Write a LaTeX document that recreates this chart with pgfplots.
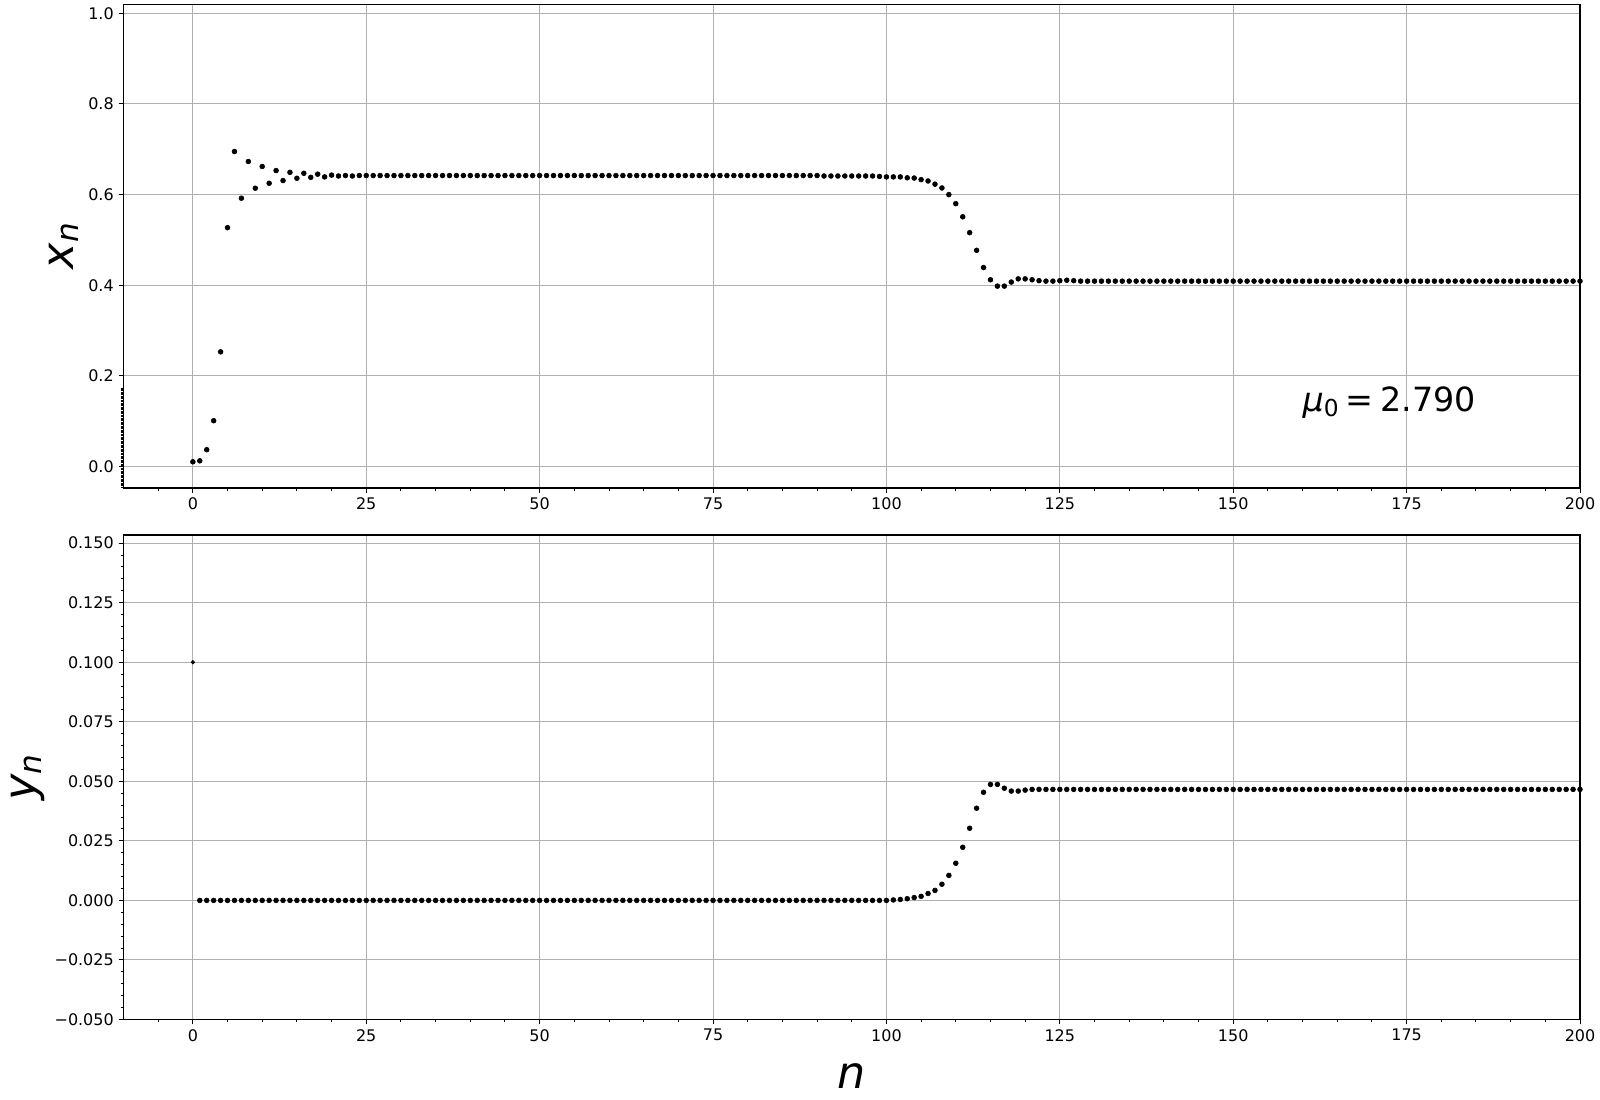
\documentclass[border=0pt]{standalone}
\usepackage{fontspec}
\setmainfont{DejaVu Sans}
\usepackage{pgfplots}
\pgfplotsset{compat=1.18}
\definecolor{gridgray}{RGB}{176,176,176}

\pgfplotsset{
  mpl/.style={
    scale only axis, width=1048.7pt,
    xmin=-10, xmax=200,
    axis line style={black, line width=0.8pt},
    tick align=outside, xtick pos=bottom, ytick pos=left,
    major tick length=3.5pt, minor tick length=2pt,
    tick style={black, line width=0.7pt},
    grid=major, grid style={gridgray, line width=0.7pt},
    xtick={0,25,...,200},
    xticklabels={0,25,50,75,100,125,150,175,200},
    minor xtick={-5,0,...,200},
    tick label style={font=\fontsize{11.5}{13}\selectfont},
    label style={font=\fontsize{32}{36}\selectfont},
  },
  dots/.style={only marks, mark=*, mark size=1.75pt, black, mark options={line width=0.4pt}},
}

\begin{document}
\begin{tikzpicture}

% x_n
\begin{axis}[mpl, name=top, at={(88.92pt,-351.36pt)}, anchor=south west,
  height=348.3pt, ymin=-0.0475, ymax=1.02,
  ytick={0,0.2,...,1.0}, yticklabels={0.0,0.2,0.4,0.6,0.8,1.0},
  minor ytick={-0.046,-0.043,...,0.172},
  ylabel={\textit{x}\textsubscript{\textit{n}}},
]
\addplot[dots] coordinates {
(0,0.0103)(1,0.0125)(2,0.037)(3,0.101)(4,0.253)(5,0.527)(6,0.695)(7,0.592)(8,0.673)(9,0.614)
(10,0.662)(11,0.625)(12,0.653)(13,0.631)(14,0.649)(15,0.636)(16,0.647)(17,0.638)(18,0.645)(19,0.639)
(20,0.643)(21,0.641)(22,0.642)(23,0.641)(24,0.642)(25,0.642)(26,0.642)(27,0.642)(28,0.642)(29,0.642)
(30,0.642)(31,0.642)(32,0.642)(33,0.642)(34,0.642)(35,0.642)(36,0.642)(37,0.642)(38,0.642)(39,0.642)
(40,0.642)(41,0.642)(42,0.642)(43,0.642)(44,0.642)(45,0.642)(46,0.642)(47,0.642)(48,0.642)(49,0.642)
(50,0.642)(51,0.642)(52,0.642)(53,0.642)(54,0.642)(55,0.642)(56,0.642)(57,0.642)(58,0.642)(59,0.642)
(60,0.642)(61,0.642)(62,0.642)(63,0.642)(64,0.642)(65,0.642)(66,0.642)(67,0.642)(68,0.642)(69,0.642)
(70,0.642)(71,0.642)(72,0.642)(73,0.642)(74,0.642)(75,0.642)(76,0.642)(77,0.642)(78,0.642)(79,0.642)
(80,0.642)(81,0.642)(82,0.642)(83,0.642)(84,0.642)(85,0.642)(86,0.642)(87,0.642)(88,0.642)(89,0.642)
(90,0.642)(91,0.641)(92,0.641)(93,0.641)(94,0.641)(95,0.641)(96,0.641)(97,0.641)(98,0.641)(99,0.640)
(100,0.639)(101,0.639)(102,0.639)(103,0.637)(104,0.6365)(105,0.633)(106,0.630)(107,0.623)(108,0.6146)(109,0.600)
(110,0.580)(111,0.551)(112,0.516)(113,0.477)(114,0.439)(115,0.412)(116,0.398)(117,0.398)(118,0.407)(119,0.414)
(120,0.414)(121,0.412)(122,0.410)(123,0.409)(124,0.409)(125,0.410)(126,0.411)(127,0.410)(128,0.409)(129,0.409)
(130,0.409)(131,0.409)(132,0.409)(133,0.409)(134,0.409)(135,0.409)(136,0.409)(137,0.409)(138,0.409)(139,0.409)
(140,0.409)(141,0.409)(142,0.409)(143,0.409)(144,0.409)(145,0.409)(146,0.409)(147,0.409)(148,0.409)(149,0.409)
(150,0.409)(151,0.409)(152,0.409)(153,0.409)(154,0.409)(155,0.409)(156,0.409)(157,0.409)(158,0.409)(159,0.409)
(160,0.409)(161,0.409)(162,0.409)(163,0.409)(164,0.409)(165,0.409)(166,0.409)(167,0.409)(168,0.409)(169,0.409)
(170,0.409)(171,0.409)(172,0.409)(173,0.409)(174,0.409)(175,0.409)(176,0.409)(177,0.409)(178,0.409)(179,0.409)
(180,0.409)(181,0.409)(182,0.409)(183,0.409)(184,0.409)(185,0.409)(186,0.409)(187,0.409)(188,0.409)(189,0.409)
(190,0.409)(191,0.409)(192,0.409)(193,0.409)(194,0.409)(195,0.409)(196,0.409)(197,0.409)(198,0.409)(199,0.409)
(200,0.409)};
\node[anchor=base, font=\fontsize{24}{28}\selectfont] at (axis cs:172.5,0.122)
  {\textit{μ}\textsubscript{0}\kern0.2em=\kern0.2em2.790};
\end{axis}

% y_n
\begin{axis}[mpl, name=bot, at={(88.92pt,-734.04pt)}, anchor=south west,
  height=348.84pt, ymin=-0.05, ymax=0.1534,
  ytick={-0.05,-0.025,...,0.15},
  yticklabels={−0.050,−0.025,0.000,0.025,0.050,0.075,0.100,0.125,0.150},
  minor ytick={-0.05,-0.045,...,0.15},
  ylabel={\textit{y}\textsubscript{\textit{n}}},
  xlabel={\textit{n}}, xlabel style={yshift=-9pt},
]
\addplot[dots, mark size=1.3pt] coordinates {(0,0.1)};
\addplot[dots] coordinates {
(1,0)(2,0)(3,0)(4,0)(5,0)(6,0)(7,0)(8,0)(9,0)
(10,0)(11,0)(12,0)(13,0)(14,0)(15,0)(16,0)(17,0)(18,0)(19,0)
(20,0)(21,0)(22,0)(23,0)(24,0)(25,0)(26,0)(27,0)(28,0)(29,0)
(30,0)(31,0)(32,0)(33,0)(34,0)(35,0)(36,0)(37,0)(38,0)(39,0)
(40,0)(41,0)(42,0)(43,0)(44,0)(45,0)(46,0)(47,0)(48,0)(49,0)
(50,0)(51,0)(52,0)(53,0)(54,0)(55,0)(56,0)(57,0)(58,0)(59,0)
(60,0)(61,0)(62,0)(63,0)(64,0)(65,0)(66,0)(67,0)(68,0)(69,0)
(70,0)(71,0)(72,0)(73,0)(74,0)(75,0)(76,0)(77,0)(78,0)(79,0)
(80,0)(81,0)(82,0)(83,0)(84,0)(85,0)(86,0)(87,0)(88,0)(89,0)
(90,0)(91,0)(92,0)(93,0)(94,0)(95,0)(96,0)(97,0)(98,0)(99,0)
(100,0)(101,0.0002)(102,0.0004)(103,0.0007)(104,0.0012)(105,0.0017)(106,0.0029)(107,0.0042)(108,0.0068)(109,0.0105)
(110,0.0156)(111,0.0223)(112,0.0303)(113,0.0387)(114,0.0454)(115,0.0487)(116,0.0487)(117,0.0471)(118,0.0459)(119,0.0459)
(120,0.0463)(121,0.0466)(122,0.0466)(123,0.0466)(124,0.0466)(125,0.0466)(126,0.0466)(127,0.0466)(128,0.0466)(129,0.0466)
(130,0.0466)(131,0.0466)(132,0.0466)(133,0.0466)(134,0.0466)(135,0.0466)(136,0.0466)(137,0.0466)(138,0.0466)(139,0.0466)
(140,0.0466)(141,0.0466)(142,0.0466)(143,0.0466)(144,0.0466)(145,0.0466)(146,0.0466)(147,0.0466)(148,0.0466)(149,0.0466)
(150,0.0466)(151,0.0466)(152,0.0466)(153,0.0466)(154,0.0466)(155,0.0466)(156,0.0466)(157,0.0466)(158,0.0466)(159,0.0466)
(160,0.0466)(161,0.0466)(162,0.0466)(163,0.0466)(164,0.0466)(165,0.0466)(166,0.0466)(167,0.0466)(168,0.0466)(169,0.0466)
(170,0.0466)(171,0.0466)(172,0.0466)(173,0.0466)(174,0.0466)(175,0.0466)(176,0.0466)(177,0.0466)(178,0.0466)(179,0.0466)
(180,0.0466)(181,0.0466)(182,0.0466)(183,0.0466)(184,0.0466)(185,0.0466)(186,0.0466)(187,0.0466)(188,0.0466)(189,0.0466)
(190,0.0466)(191,0.0466)(192,0.0466)(193,0.0466)(194,0.0466)(195,0.0466)(196,0.0466)(197,0.0466)(198,0.0466)(199,0.0466)
(200,0.0466)};
\end{axis}

\pgfresetboundingbox
\path (0pt,0pt) rectangle (1152pt,-792pt);
\end{tikzpicture}
\end{document}
